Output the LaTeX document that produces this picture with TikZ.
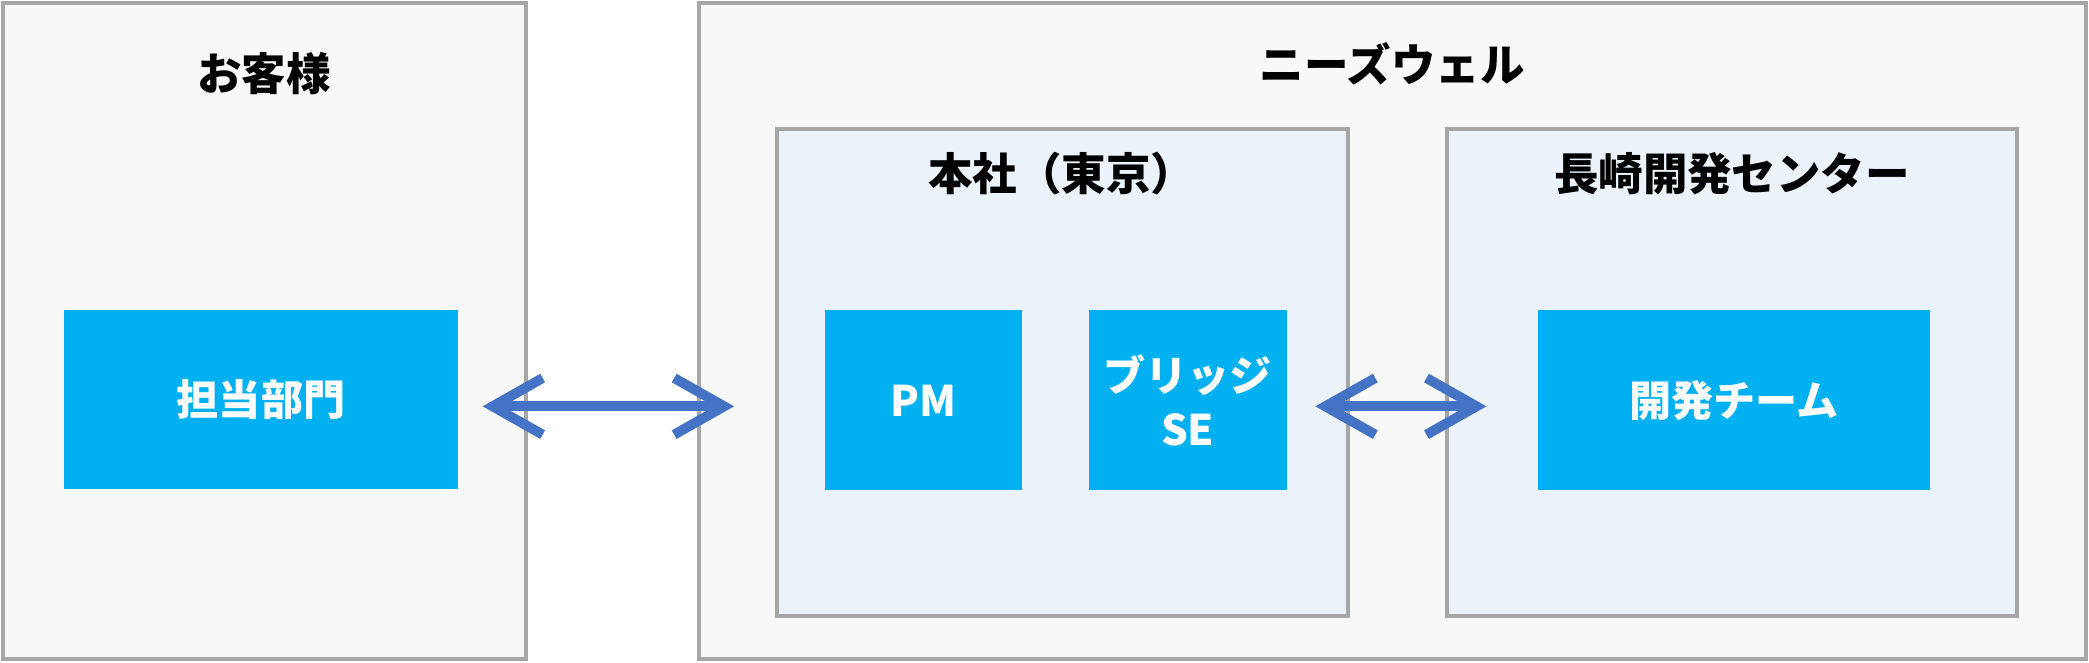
\documentclass[tikz,border=0pt]{standalone}
\usepackage{fontspec}
\setmainfont{Noto Sans CJK JP}
\usetikzlibrary{arrows.meta}
\definecolor{pfill}{HTML}{F8F8F8}
\definecolor{pline}{HTML}{A6A6A6}
\definecolor{sfill}{HTML}{EBF2FA}
\definecolor{cyanb}{HTML}{00B0F0}
\definecolor{arr}{HTML}{4472C4}
\begin{document}
\begin{tikzpicture}[x=0.02cm,y=-0.02cm,
  panel/.style={draw=pline,fill=pfill,line width=1.7pt},
  sub/.style={draw=pline,fill=sfill,line width=1.7pt},
  box/.style={fill=cyanb,text=white,font=\fontsize{18}{23}\selectfont\bfseries,align=center,inner sep=0pt},
  ttl/.style={font=\fontsize{19}{22}\selectfont\bfseries},
  dbl/.style={draw=arr,line width=4.2pt,{Straight Barb[length=0.75cm,width=0.85cm]}-{Straight Barb[length=0.75cm,width=0.85cm]}}]
\useasboundingbox (0,0) rectangle (1568,497);
\draw[panel] (2,2) rectangle (395,495);
\draw[panel] (525,2) rectangle (1566,495);
\draw[sub] (583,97) rectangle (1012,462);
\draw[sub] (1086,97) rectangle (1514,462);
\node[ttl] (t1) at (198,55) {お客様};
\node[ttl] (t2) at (1045,48) {ニーズウェル};
\node[ttl] (t3) at (797,130) {本社（東京）};
\node[ttl] (t4) at (1300,130) {長崎開発センター};
\coordinate (hqw) at (583,305);
\node[box,minimum width=5.92cm,minimum height=2.68cm] (tanto) at (196,300) {担当部門};
\node[box,minimum width=2.96cm,minimum height=2.7cm] (pm) at (693,300.5) {PM};
\node[box,minimum width=2.98cm,minimum height=2.7cm] (bse) at (891.5,300.5) {ブリッジ\\SE};
\node[box,minimum width=5.9cm,minimum height=2.7cm] (dev) at (1301.5,300.5) {開発チーム};
\draw[dbl,shorten <=0.36cm,shorten >=0.64cm] (tanto.east|-hqw) -- (hqw);
\draw[dbl,shorten <=0.42cm,shorten >=0.76cm] (bse.east|-hqw) -- (dev.west|-hqw);
\end{tikzpicture}
\end{document}
